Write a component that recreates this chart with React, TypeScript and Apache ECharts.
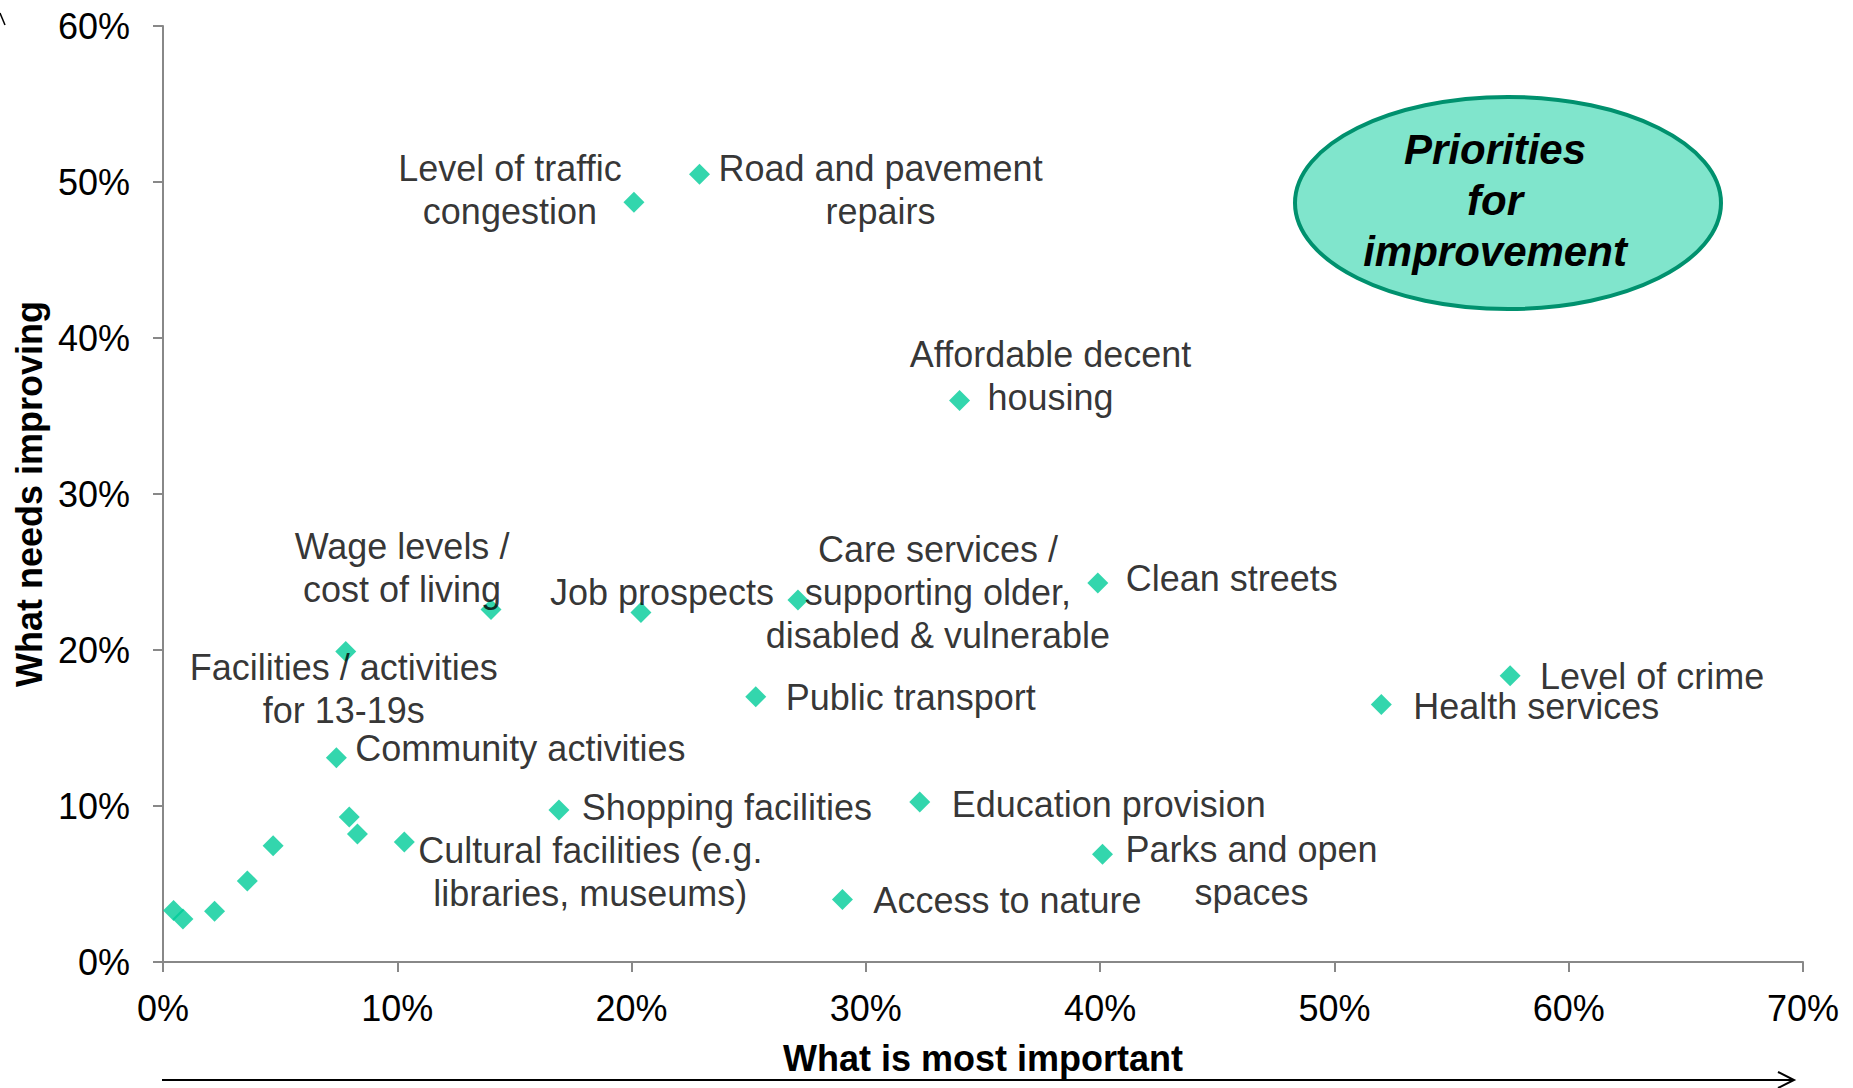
import React, { useEffect, useRef } from "react";
import * as echarts from "echarts";

// ---- Data (percent values) ----
const itemNames: string[] = [
  "Level of traffic\ncongestion",
  "Road and pavement\nrepairs",
  "Affordable decent\nhousing",
  "Wage levels /\ncost of living",
  "Job prospects",
  "Care services /\nsupporting older,\ndisabled & vulnerable",
  "Clean streets",
  "Facilities / activities\nfor 13-19s",
  "Public transport",
  "Level of crime",
  "Health services",
  "Community activities",
  "Shopping facilities",
  "Education provision",
  "Cultural facilities (e.g.\nlibraries, museums)",
  "Parks and open\nspaces",
  "Access to nature",
  "",
  "",
  "",
  "",
  "",
  "",
  "",
];

// x: What is most important (%)
const mostImportant: number[] = [
  20.1, 22.9, 34.0, 14.0, 20.4, 27.1, 39.9, 7.8, 25.3, 57.5, 52.0, 7.4, 16.9,
  32.3, 10.3, 40.1, 29.0, 7.95, 8.3, 4.7, 3.6, 2.2, 0.45, 0.85,
];

// y: What needs improving (%)
const needsImproving: number[] = [
  48.7, 50.5, 36.0, 22.6, 22.4, 23.2, 24.3, 19.9, 17.0, 18.35, 16.5, 13.1, 9.75,
  10.25, 7.7, 6.9, 4.0, 9.3, 8.2, 7.45, 5.2, 3.25, 3.3, 2.75,
];

// label offsets (px) of each label's centre from its marker
const labelOffsets: [number, number][] = [
  [-124, -12],
  [181, 16],
  [91, -24],
  [-89, -41],
  [21, -20],
  [140, -8],
  [134, -4],
  [-2, 37],
  [155, 1],
  [142, 1],
  [155, 2],
  [184, -9],
  [168, -2],
  [189, 2],
  [186, 30],
  [149, 17],
  [165, 1],
  [0, 0],
  [0, 0],
  [0, 0],
  [0, 0],
  [0, 0],
  [0, 0],
  [0, 0],
];

const xTicks = { min: 0, max: 70, interval: 10 };
const yTicks = { min: 0, max: 60, interval: 10 };

const calloutText = "Priorities\nfor\nimprovement";
const xTitle = "What is most important";
const yTitle = "What needs improving";

const FONT = "Arial, 'Liberation Sans', Helvetica, sans-serif";

export default function App() {
  const ref = useRef<HTMLDivElement>(null);

  useEffect(() => {
    if (!ref.current) return;
    const chart = echarts.init(ref.current, undefined, { renderer: "svg" });

    const data = mostImportant.map((x, i) => ({
      value: [x, needsImproving[i]],
      name: itemNames[i],
      label: {
        show: itemNames[i] !== "",
        offset: labelOffsets[i],
      },
    }));

    const axisCommon = {
      axisLine: { show: true, lineStyle: { color: "#888888", width: 2 } },
      axisTick: { show: true, length: 10, lineStyle: { color: "#888888", width: 2 } },
      splitLine: { show: false },
      axisLabel: {
        color: "#000",
        fontSize: 36,
        fontFamily: FONT,
        formatter: "{value}%",
      },
      nameTextStyle: {
        color: "#000",
        fontSize: 36,
        fontWeight: "bold",
        fontFamily: FONT,
      },
    };

    chart.setOption({
      animation: false,
      backgroundColor: "#ffffff",
      textStyle: { fontFamily: FONT },
      grid: { left: 163, right: 50, top: 26, bottom: 126, containLabel: false },
      xAxis: {
        type: "value",
        ...xTicks,
        ...axisCommon,
        axisLabel: { ...axisCommon.axisLabel, margin: 28 },
        name: xTitle,
        nameLocation: "middle",
        nameGap: 78,
      },
      yAxis: {
        type: "value",
        ...yTicks,
        ...axisCommon,
        axisLabel: { ...axisCommon.axisLabel, margin: 33 },
        name: yTitle,
        nameLocation: "middle",
        nameGap: 116,
      },
      series: [
        {
          type: "scatter",
          symbol: "diamond",
          symbolSize: 21,
          itemStyle: { color: "#00CC99" },
          label: {
            show: true,
            position: "inside",
            formatter: "{b}",
            color: "#000",
            fontSize: 36,
            lineHeight: 43,
            fontFamily: FONT,
            align: "center",
            verticalAlign: "middle",
          },
          emphasis: { disabled: true },
          data,
        },
      ],
      graphic: [
        {
          type: "ellipse",
          shape: { cx: 1508, cy: 203, rx: 213, ry: 106 },
          style: { fill: "#80E5CC", stroke: "#00916E", lineWidth: 4 },
          z: 10,
        },
        {
          type: "text",
          x: 1495,
          y: 200,
          style: {
            text: calloutText,
            fill: "#000",
            font: `italic bold 42px ${FONT}`,
            lineHeight: 51,
            align: "center",
            verticalAlign: "middle",
          },
          z: 11,
        },
        {
          type: "line",
          shape: { x1: 162, y1: 1080, x2: 1794, y2: 1080 },
          style: { stroke: "#000", lineWidth: 2 },
        },
        {
          type: "polyline",
          shape: { points: [[1778, 1072], [1794, 1080], [1778, 1088]] },
          style: { stroke: "#000", lineWidth: 2, fill: "none" },
        },
        {
          type: "line",
          shape: { x1: 0, y1: 13, x2: 5, y2: 25 },
          style: { stroke: "#000", lineWidth: 1.5 },
        },
      ],
    });

    return () => chart.dispose();
  }, []);

  return (
    <div
      ref={ref}
      style={{ position: "fixed", left: 0, top: 0, width: 1853, height: 1088 }}
    />
  );
}
